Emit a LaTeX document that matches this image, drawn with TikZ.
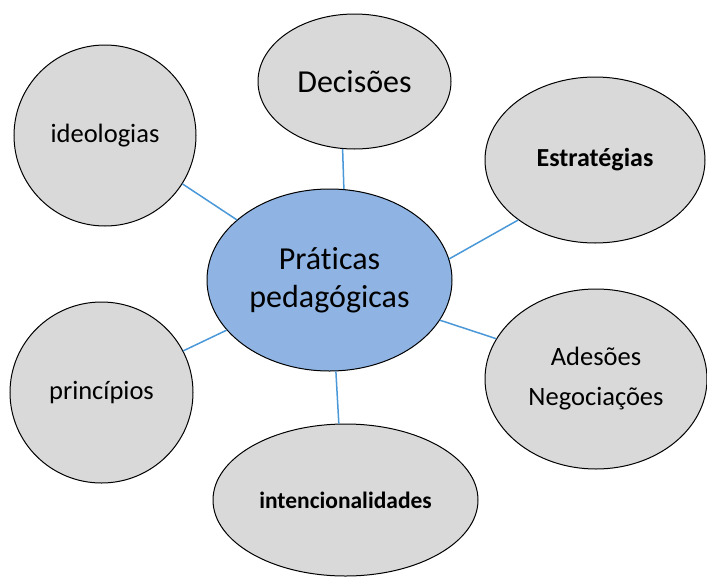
\documentclass[tikz,border=0pt]{standalone}
\usepackage{fontspec}
\setmainfont{Carlito}[Ligatures={NoCommon}]
\usepackage{xcolor}
\usepackage{tikz}
\usetikzlibrary{shapes.geometric}
\definecolor{bolha}{HTML}{D9D9D9}
\definecolor{centro}{HTML}{8FB4E3}
\definecolor{ligacao}{HTML}{4A98D8}
\tikzstyle{ideia} = [ellipse, draw=black, line width=1pt, fill=bolha, inner sep=0pt, align=center, font=\fontsize{26.5}{40}\selectfont]

\begin{document}
\begin{tikzpicture}[x=1pt,y=-1pt]
    \tikzstyle{nucleo} = [ideia, fill=centro, font=\fontsize{32}{38}\selectfont]
    \tikzstyle{elo} = [draw=ligacao, line width=1.5pt]
    \useasboundingbox (0,0) rectangle (707,576);
    \node[nucleo, minimum width=245pt, minimum height=182pt] (prat) at (329.5,280) {Práticas\\pedagógicas};
    \node[ideia, minimum width=193pt, minimum height=135pt, font=\fontsize{32}{38}\selectfont] (dec) at (354.5,81.5) {Decisões};
    \node[ideia, minimum width=182pt, minimum height=181pt] (ide) at (105,135.5) {ideologias};
    \node[ideia, minimum width=220pt, minimum height=166pt, font=\fontsize{26}{32}\selectfont\bfseries] (est) at (595,160) {Estratégias};
    \node[ideia, minimum width=183pt, minimum height=181pt] (pri) at (101.5,392.5) {princípios};
    \node[ideia, minimum width=222pt, minimum height=180pt] (ade) at (596,379) {Adesões\\Negociações};
    \node[ideia, minimum width=265pt, minimum height=152pt, font=\fontsize{23.5}{30}\selectfont\bfseries] (int) at (345.5,500) {intencionalidades};
    \draw[elo] (dec.260) -- (prat.81.5);
    \draw[elo] (ide.328) -- (prat.147);
    \draw[elo] (est.218) -- (prat.10);
    \draw[elo] (ade.158) -- (prat.340);
    \draw[elo] (pri.27) -- (prat.206);
    \draw[elo] (int.95) -- (prat.274);
\end{tikzpicture}
\end{document}
